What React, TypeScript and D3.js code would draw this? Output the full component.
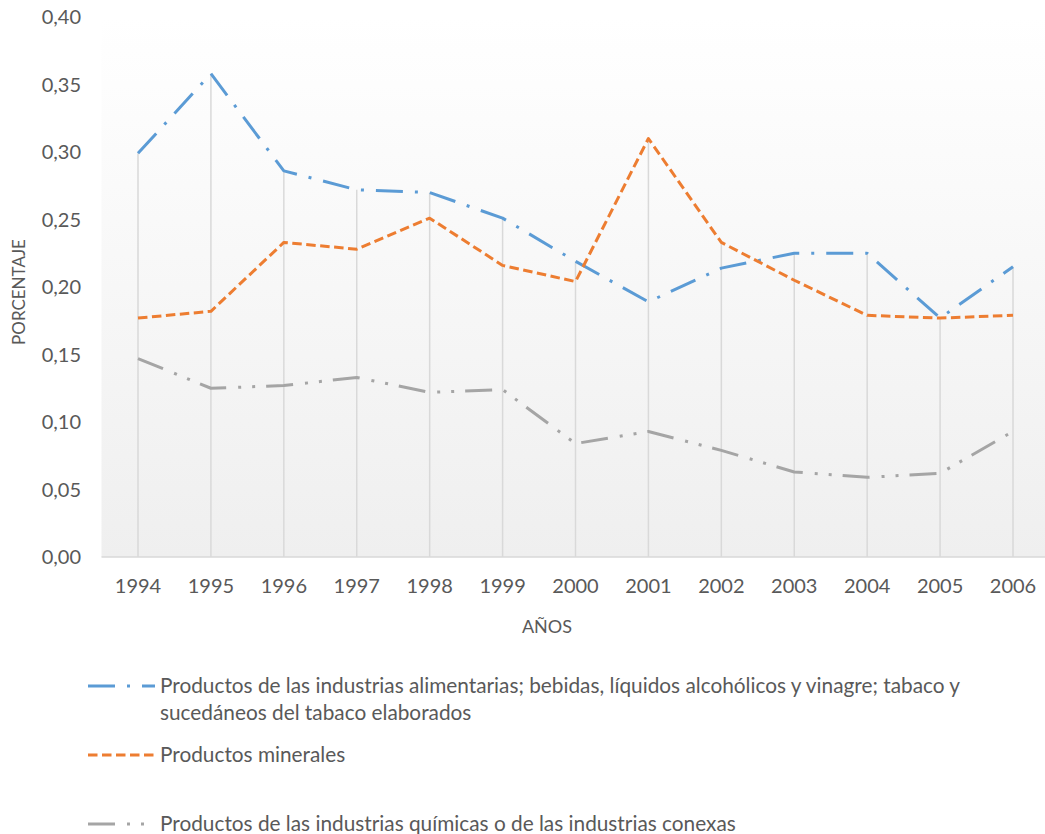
import React from "react";
import * as d3 from "d3";

const years = ["1994","1995","1996","1997","1998","1999","2000","2001","2002","2003","2004","2005","2006"];
const alimentarias = [0.299,0.358,0.286,0.272,0.270,0.251,0.219,0.189,0.214,0.225,0.225,0.177,0.215];
const minerales = [0.177,0.182,0.233,0.228,0.251,0.216,0.204,0.310,0.233,0.205,0.179,0.177,0.179];
const quimicas = [0.147,0.125,0.127,0.133,0.122,0.124,0.084,0.093,0.079,0.063,0.059,0.062,0.093];
const yTicks = [0, 0.05, 0.1, 0.15, 0.2, 0.25, 0.3, 0.35, 0.4];
const legendLabels = [
  ["Productos de las industrias alimentarias; bebidas, líquidos alcohólicos y vinagre; tabaco y", "sucedáneos del tabaco elaborados"],
  ["Productos minerales"],
  ["Productos de las industrias químicas o de las industrias conexas"],
];
const yTitle = "PORCENTAJE";
const xTitle = "AÑOS";

const series = [
  { values: alimentarias, color: "#5b9bd5", dash: "27 12 3 12" },
  { values: minerales, color: "#ed7d31", dash: "9.5 4.5" },
  { values: quimicas, color: "#a5a5a5", dash: "27 12 3 11 3 11" },
];

const FONT = "Lato, 'Open Sans', sans-serif";
const TXT = "#595959";

export default function App() {
  const W = 1045, H = 834;
  const plotLeft = 101.5, plotRight = 1049.5, plotTop = 17, plotBottom = 557;
  const x = d3.scalePoint<string>().domain(years).range([138, 1013]);
  const y = d3.scaleLinear().domain([0, 0.4]).range([plotBottom, plotTop]);
  const locale = d3.formatLocale({ decimal: ",", thousands: ".", grouping: [3], currency: ["", "€"] });
  const fmt = locale.format(".2f");
  const line = d3.line<number>().x((_, i) => x(years[i]) as number).y((v) => y(v));
  const maxVals = years.map((_, i) => Math.max(...series.map((s) => s.values[i])));
  const legendY = [686, 755, 824];

  return (
    <div style={{ position: "absolute", left: 0, top: 0 }}>
      <svg width={W} height={H} style={{ display: "block", background: "#fff" }}>
        <defs>
          <linearGradient id="bg" x1="0" y1="0" x2="0" y2="1">
            <stop offset="0" stopColor="#ffffff" />
            <stop offset="1" stopColor="#efefef" />
          </linearGradient>
        </defs>
        <rect x={plotLeft} y={plotTop} width={plotRight - plotLeft} height={plotBottom - plotTop} fill="url(#bg)" />
        {years.map((yr, i) => (
          <line key={yr} x1={x(yr)} x2={x(yr)} y1={y(maxVals[i])} y2={plotBottom} stroke="#d9d9d9" strokeWidth={1.5} />
        ))}
        <line x1={plotLeft} x2={plotRight} y1={plotBottom} y2={plotBottom} stroke="#d9d9d9" strokeWidth={1.5} />
        {yTicks.map((t) => (
          <text key={t} x={81} y={y(t)} dy="0.36em" textAnchor="end" fontFamily={FONT} fontSize={20} fill={TXT}>
            {fmt(t)}
          </text>
        ))}
        {years.map((yr) => (
          <text key={yr} x={x(yr)} y={586} dy="0.36em" textAnchor="middle" fontFamily={FONT} fontSize={20} fill={TXT}>
            {yr}
          </text>
        ))}
        <text x={547} y={627} dy="0.36em" textAnchor="middle" fontFamily={FONT} fontSize={18} fill={TXT}>{xTitle}</text>
        <text transform="translate(19,292) rotate(-90)" dy="0.36em" textAnchor="middle" fontFamily={FONT} fontSize={17} fill={TXT}>{yTitle}</text>
        {series.map((s, k) => (
          <path key={k} d={line(s.values) || ""} fill="none" stroke={s.color} strokeWidth={3} strokeDasharray={s.dash} strokeLinejoin="round" />
        ))}
        {series.map((s, k) => (
          <g key={k}>
            <line x1={88} x2={155} y1={legendY[k]} y2={legendY[k]} stroke={s.color} strokeWidth={3} strokeDasharray={s.dash} />
            {legendLabels[k].map((ln, j) => (
              <text key={j} x={160} y={legendY[k] + j * 27} dy="0.35em" fontFamily={FONT} fontSize={20.8} fill={TXT}>{ln}</text>
            ))}
          </g>
        ))}
      </svg>
    </div>
  );
}
